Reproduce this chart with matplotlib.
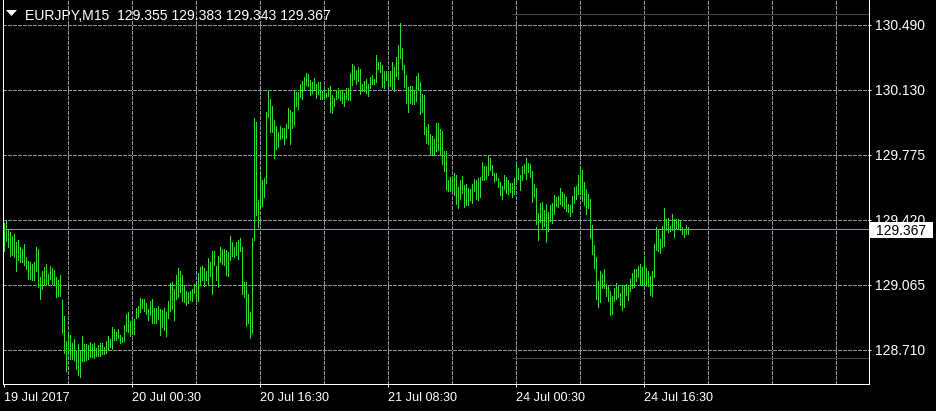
import matplotlib
matplotlib.use("Agg")
import matplotlib.pyplot as plt
from matplotlib.patches import Rectangle, Polygon
import numpy as np

plt.rcParams['font.family'] = ['Liberation Sans', 'DejaVu Sans']

# ---------------- data (EURJPY, M15) ----------------
highs = [
    129.405,129.420,129.365,129.351,129.329,129.340,129.296,129.307,129.270,129.260,
    129.285,129.216,129.194,129.187,129.180,129.187,129.274,129.263,129.110,129.143,
    129.161,129.176,129.125,129.165,129.154,129.147,129.110,129.092,129.121,128.983,
    128.892,128.757,128.805,128.790,128.746,128.768,128.710,128.739,128.710,128.783,
    128.739,128.739,128.735,128.750,128.743,128.746,128.721,128.735,128.746,128.746,
    128.728,128.757,128.787,128.768,128.834,128.823,128.805,128.823,128.790,128.779,
    128.848,128.907,128.914,128.866,128.870,128.877,128.939,128.950,128.994,128.986,
    128.986,128.965,128.932,128.976,128.986,128.936,128.939,128.950,128.932,128.925,
    128.939,128.914,128.976,129.074,129.081,129.041,129.121,129.154,129.139,129.117,
    129.060,129.030,129.023,129.030,129.041,129.067,129.071,129.128,129.161,129.165,
    129.158,129.143,129.209,129.191,129.252,129.249,129.169,129.220,129.274,129.260,
    129.260,129.256,129.242,129.329,129.296,129.270,129.300,129.307,129.322,129.274,
    129.081,129.078,129.016,128.914,129.322,129.977,129.955,129.529,129.682,129.635,
    129.646,130.006,130.122,130.082,130.043,129.966,129.930,129.897,129.930,129.919,
    129.922,129.941,130.028,130.017,130.006,130.126,130.115,130.115,130.159,130.177,
    130.199,130.221,130.217,130.181,130.174,130.192,130.159,130.174,130.170,130.122,
    130.130,130.111,130.141,130.148,130.104,130.086,130.130,130.141,130.126,130.130,
    130.111,130.137,130.141,130.221,130.268,130.257,130.238,130.252,130.241,130.164,
    130.175,130.190,130.164,130.197,130.208,130.190,130.317,130.284,130.284,130.266,
    130.230,130.230,130.223,130.230,130.284,130.252,130.310,130.372,130.492,130.357,
    130.263,130.208,130.143,130.150,130.150,130.125,130.204,130.219,130.171,130.106,
    130.099,129.924,129.942,129.888,129.880,129.859,129.946,129.946,129.917,129.906,
    129.797,129.797,129.636,129.655,129.655,129.673,129.662,129.600,129.636,129.658,
    129.611,129.614,129.593,129.586,129.618,129.640,129.635,129.649,129.656,129.733,
    129.711,129.711,129.766,129.755,129.718,129.678,129.678,129.649,129.624,129.606,
    129.667,129.656,129.635,129.620,129.620,129.649,129.722,129.700,129.667,129.715,
    129.722,129.755,129.729,129.726,129.689,129.617,129.595,129.456,129.514,129.518,
    129.471,129.504,129.464,129.500,129.514,129.554,129.547,129.551,129.591,129.569,
    129.562,129.543,129.507,129.500,129.551,129.598,129.602,129.667,129.700,129.693,
    129.628,129.587,129.562,129.533,129.393,129.280,129.214,129.083,129.138,129.123,
    129.152,129.068,129.061,129.032,129.003,129.047,129.076,129.057,129.021,129.065,
    129.065,129.072,129.061,129.094,129.127,129.149,129.152,129.170,129.181,129.160,
    129.210,129.156,129.141,129.112,129.141,129.287,129.378,129.363,129.316,129.385,
    129.483,129.425,129.429,129.385,129.451,129.425,129.422,129.422,129.415,129.382,
    129.371,129.389,129.383,
]
lows = [
    129.249,129.303,129.270,129.224,129.227,129.216,129.143,129.198,129.187,129.187,
    129.172,129.150,129.099,129.096,129.092,129.089,129.143,129.052,128.990,129.041,
    129.071,129.067,129.063,129.096,129.067,129.071,128.997,129.005,129.005,128.801,
    128.695,128.593,128.685,128.659,128.659,128.652,128.604,128.571,128.564,128.648,
    128.648,128.656,128.659,128.670,128.670,128.666,128.674,128.677,128.677,128.685,
    128.685,128.692,128.717,128.724,128.713,128.765,128.761,128.772,128.746,128.750,
    128.757,128.812,128.805,128.787,128.794,128.798,128.885,128.888,128.914,128.939,
    128.921,128.903,128.870,128.899,128.855,128.855,128.859,128.877,128.790,128.834,
    128.816,128.783,128.881,128.921,128.932,128.870,128.990,128.997,129.027,128.979,
    128.972,128.954,128.968,128.983,128.979,129.019,128.983,128.979,129.067,129.092,
    129.060,129.092,129.067,129.114,129.016,129.172,129.089,129.052,129.187,129.176,
    129.172,129.117,129.114,129.202,129.220,129.216,129.227,129.205,129.252,129.012,
    128.997,128.841,128.855,128.776,128.801,129.307,129.445,129.380,129.478,129.497,
    129.543,129.620,129.980,129.897,129.897,129.759,129.806,129.820,129.860,129.864,
    129.831,129.868,129.919,129.831,129.919,129.937,130.039,130.024,130.093,130.082,
    130.133,130.155,130.152,130.104,130.111,130.130,130.086,130.108,130.082,130.082,
    130.086,130.090,130.097,130.006,130.002,130.039,130.079,130.086,130.072,130.057,
    130.039,130.079,130.072,130.072,130.155,130.188,130.159,130.179,130.106,130.121,
    130.125,130.114,130.095,130.139,130.164,130.160,130.171,130.245,130.226,130.143,
    130.139,130.182,130.153,130.150,130.132,130.125,130.204,130.190,130.306,130.245,
    130.143,130.059,130.011,130.055,130.051,130.051,130.066,130.132,129.997,130.008,
    129.888,129.837,129.833,129.778,129.775,129.775,129.793,129.800,129.775,129.724,
    129.688,129.582,129.575,129.575,129.578,129.553,129.505,129.487,129.535,129.564,
    129.491,129.502,129.498,129.527,129.513,129.575,129.533,129.529,129.547,129.638,
    129.635,129.642,129.667,129.693,129.664,129.624,129.635,129.598,129.554,129.533,
    129.587,129.565,129.562,129.569,129.543,129.558,129.638,129.642,129.580,129.635,
    129.678,129.642,129.682,129.656,129.518,129.547,129.398,129.311,129.409,129.369,
    129.387,129.300,129.358,129.412,129.405,129.449,129.497,129.489,129.504,129.497,
    129.482,129.467,129.460,129.442,129.464,129.511,129.536,129.562,129.558,129.525,
    129.500,129.449,129.482,129.322,129.232,129.156,128.985,128.941,128.970,129.050,
    129.047,129.003,128.974,128.901,128.905,128.974,128.989,128.996,128.952,128.930,
    128.945,129.007,128.981,129.032,129.047,129.054,129.083,129.109,129.065,129.065,
    129.065,129.061,129.061,129.010,129.003,129.109,129.254,129.251,129.240,129.273,
    129.276,129.363,129.352,129.356,129.363,129.327,129.371,129.374,129.363,129.345,
    129.327,129.345,129.343,
]

x_label_bars = [0, 64, 128, 192, 256, 320]
x_labels = ["19 Jul 2017", "20 Jul 00:30", "20 Jul 16:30",
            "21 Jul 08:30", "24 Jul 00:30", "24 Jul 16:30"]
grid_bars = list(range(32, 433, 32))
y_ticks = [128.710, 129.065, 129.420, 129.775, 130.130, 130.485]
y_tick_labels = ["128.710", "129.065", "129.420", "129.775", "130.130", "130.490"]
bid_price = 129.367
bid_label = "129.367"
level_prices = [130.545, 128.666]
level_start_bar = 254
title = "EURJPY,M15  129.355 129.383 129.343 129.367"

# ---------------- figure ----------------
W, H = 936, 411
fig = plt.figure(figsize=(W / 100, H / 100), dpi=100, facecolor="black")
ax = fig.add_axes([2.5 / W, 27.5 / H, 866 / W, 383.5 / H])
ax.set_facecolor("black")

px = 0.72  # one pixel in points
bar_color = "#2fdc2f"
grid_color = "#8a94a2"

x = np.arange(len(highs))
ax.set_xlim(-0.5, 432.5)
ax.set_ylim(128.526, 130.620)

# grid
for g in grid_bars:
    ax.axvline(g, color=grid_color, lw=px, ls=(0, (3, 2)), zorder=1, antialiased=False)
for v in y_ticks:
    ax.axhline(v, color=grid_color, lw=px, ls=(0, (3, 2)), zorder=1, antialiased=False)

# level lines
ax.hlines(level_prices[0], level_start_bar, 432.5, color="#3c4848", lw=px, zorder=1.5)
ax.hlines(level_prices[1], level_start_bar, 432.5, color="#2f4f4f", lw=px, zorder=1.5)

# bars
ax.vlines(x, lows, highs, color=bar_color, lw=px, zorder=3, antialiased=False)

# bid line
ax.axhline(bid_price, color="#8c96a4", lw=px, zorder=4)

# spines
for s in ["left", "bottom", "right"]:
    ax.spines[s].set_color("white")
    ax.spines[s].set_linewidth(px)
ax.spines["top"].set_visible(False)

# ticks
ax.set_xticks(x_label_bars)
ax.set_xticklabels(x_labels, ha="left")
ax.tick_params(axis="x", colors="white", length=2.5, width=px, pad=3.8,
               labelsize=9.1, direction="out")
ax.yaxis.tick_right()
ax.set_yticks(y_ticks)
ax.set_yticklabels(y_tick_labels)
ax.tick_params(axis="y", colors="white", length=1.6, width=px, pad=3.3,
               labelsize=10, direction="out")

# bid price label box (covers part of the 129.420 label, as in the original)
ytr = ax.get_yaxis_transform()
box = Rectangle((867.5 / 866, bid_price - 0.048), 63 / 866, 0.089,
                transform=ytr, facecolor="white", edgecolor="none",
                clip_on=False, zorder=10)
ax.add_patch(box)
ax.text(873.5 / 866, bid_price, bid_label, transform=ytr, color="black",
        fontsize=10, va="center_baseline", ha="left", clip_on=False, zorder=11)

# title with triangle
tri = Polygon([(6 / W, 1 - 10 / H), (17 / W, 1 - 10 / H), (11.5 / W, 1 - 16 / H)],
              closed=True, transform=fig.transFigure, facecolor="white",
              edgecolor="none")
fig.patches.append(tri)
fig.text(25 / W, 1 - 19.5 / H, title, color="white", fontsize=10.05,
         va="baseline", ha="left")

fig.savefig("out.png", dpi=100, facecolor="black")
